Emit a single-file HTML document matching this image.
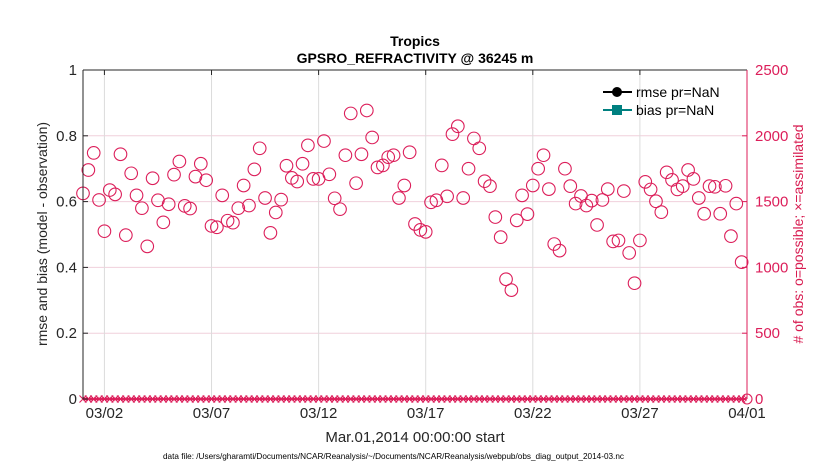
<!DOCTYPE html>
<html><head><meta charset="utf-8"><style>
body{margin:0;background:#fff;}
svg{display:block;font-family:"Liberation Sans",sans-serif;}
</style></head><body>
<svg id="chart" width="830" height="470" viewBox="0 0 830 470">
<rect width="830" height="470" fill="#fff"/>
<g id="grid"></g><g id="marks"></g><g id="axes"></g>
<text x="415" y="46" text-anchor="middle" font-size="14" font-weight="bold">Tropics</text>
<text x="415" y="63" text-anchor="middle" font-size="14" font-weight="bold">GPSRO_REFRACTIVITY @ 36245 m</text>
<text transform="translate(47,234) rotate(-90)" text-anchor="middle" font-size="14" fill="#262626">rmse and bias (model - observation)</text>
<text transform="translate(803,234) rotate(-90)" text-anchor="middle" font-size="14" fill="#d81b50"># of obs: o=possible; ×=assimilated</text>
<text x="415" y="442" text-anchor="middle" font-size="15" fill="#262626">Mar.01,2014 00:00:00 start</text>
<text x="393.5" y="459" text-anchor="middle" font-size="8.2" textLength="461" lengthAdjust="spacingAndGlyphs" fill="#000">data file: /Users/gharamti/Documents/NCAR/Reanalysis/~/Documents/NCAR/Reanalysis/webpub/obs_diag_output_2014-03.nc</text>
<g>
<line x1="603" y1="92" x2="632" y2="92" stroke="#000" stroke-width="2"/>
<circle cx="617" cy="92" r="5" fill="#000"/>
<text x="636" y="97" font-size="14">rmse pr=NaN</text>
<line x1="603" y1="110" x2="632" y2="110" stroke="#008080" stroke-width="2"/>
<rect x="612" y="105" width="10" height="10" fill="#008080"/>
<text x="636" y="115" font-size="14">bias pr=NaN</text>
</g>
</svg>
<script>
const obsValues = [0.625,0.696,0.748,0.605,0.510,0.635,0.622,0.744,0.498,0.686,0.619,0.580,0.464,0.671,0.604,0.537,0.592,0.682,0.722,0.587,0.579,0.676,0.715,0.665,0.526,0.522,0.619,0.542,0.536,0.580,0.649,0.588,0.698,0.762,0.611,0.505,0.567,0.606,0.709,0.672,0.661,0.715,0.771,0.669,0.669,0.784,0.683,0.610,0.577,0.741,0.868,0.656,0.744,0.877,0.795,0.704,0.710,0.735,0.741,0.611,0.649,0.750,0.532,0.514,0.508,0.598,0.604,0.710,0.616,0.805,0.829,0.611,0.700,0.792,0.762,0.662,0.647,0.553,0.492,0.364,0.331,0.543,0.619,0.562,0.649,0.700,0.741,0.638,0.471,0.451,0.700,0.647,0.594,0.617,0.588,0.603,0.529,0.605,0.638,0.479,0.482,0.632,0.444,0.352,0.482,0.660,0.637,0.601,0.568,0.689,0.666,0.637,0.647,0.696,0.669,0.611,0.563,0.647,0.645,0.563,0.648,0.495,0.594,0.416];
const dayStep = 0.25;
const xTickDays = [1,6,11,16,21,26,31];
const xTickLabels = ["03/02","03/07","03/12","03/17","03/22","03/27","04/01"];
const yTicks = [0,0.2,0.4,0.6,0.8,1];
const yTickLabels = ["0","0.2","0.4","0.6","0.8","1"];
const rTicks = [0,500,1000,1500,2000,2500];
const rTickLabels = ["0","500","1000","1500","2000","2500"];

const L=83,R=747,T=70,B=399,NS="http://www.w3.org/2000/svg",C="#dc1e5a";
const xs=d=>L+(R-L)*d/31, ys=v=>B-(B-T)*v, rs=v=>B-(B-T)*v/2500;
function mk(tag,attrs,parent){const e=document.createElementNS(NS,tag);for(const k in attrs)e.setAttribute(k,attrs[k]);parent.appendChild(e);return e;}
const grid=document.getElementById('grid'),marks=document.getElementById('marks'),axes=document.getElementById('axes');
yTicks.forEach((v,i)=>{
 if(v>0&&v<1){const g=mk('line',{x1:L,x2:R,y1:ys(v),y2:ys(v),stroke:'#f0d0dc','stroke-width':1},grid);
 
 }
 const t=mk('text',{x:L-6,y:ys(v)+5,'text-anchor':'end','font-size':15,fill:'#262626'},axes);t.textContent=yTickLabels[i];
 
 
 mk('line',{x1:L,x2:L+5,y1:ys(v),y2:ys(v),stroke:'#262626'},axes);
});
xTickDays.forEach((d,i)=>{
 if(d<31){const g=mk('line',{x1:xs(d),x2:xs(d),y1:T,y2:B,stroke:'#dcdcdc','stroke-width':1},grid);
 
 }
 mk('line',{x1:xs(d),x2:xs(d),y1:T,y2:T+5,stroke:'#262626'},axes);
 const t=mk('text',{x:xs(d),y:418,'text-anchor':'middle','font-size':15,fill:'#262626'},axes);t.textContent=xTickLabels[i];
 
 
});
rTicks.forEach((v,i)=>{
 mk('line',{x1:R-5,x2:R,y1:rs(v),y2:rs(v),stroke:C},axes);
 const t=mk('text',{x:R+8,y:rs(v)+5,'font-size':15,fill:C},axes);t.textContent=rTickLabels[i];
 
 
});
mk('line',{x1:L,x2:R,y1:T,y2:T,stroke:'#262626'},axes);
mk('line',{x1:L,x2:L,y1:T,y2:B,stroke:'#262626'},axes);
mk('line',{x1:R,x2:R,y1:T,y2:B,stroke:C},axes);
mk('line',{x1:L,x2:R,y1:B,y2:B,stroke:C,'stroke-width':1.5},marks);
obsValues.forEach((v,i)=>{
 const x=xs(i*dayStep);
 const c=mk('circle',{cx:x,cy:ys(v),r:6.3,fill:'none',stroke:C,'stroke-width':1.1},marks);
 
 
 const y=B;
 const p=mk('path',{d:`M${x-3.5},${y-3.5}L${x+3.5},${y+3.5}M${x-3.5},${y+3.5}L${x+3.5},${y-3.5}M${x+2.7-2},${y-2}L${x+2.7+2},${y+2}M${x+2.7-2},${y+2}L${x+2.7+2},${y-2}`,stroke:C,'stroke-width':1.1,fill:'none'},marks);
 
 
});
const e=mk('circle',{cx:R,cy:B,r:5,fill:'none',stroke:C,'stroke-width':1.1},marks);


</script>
</body></html>
